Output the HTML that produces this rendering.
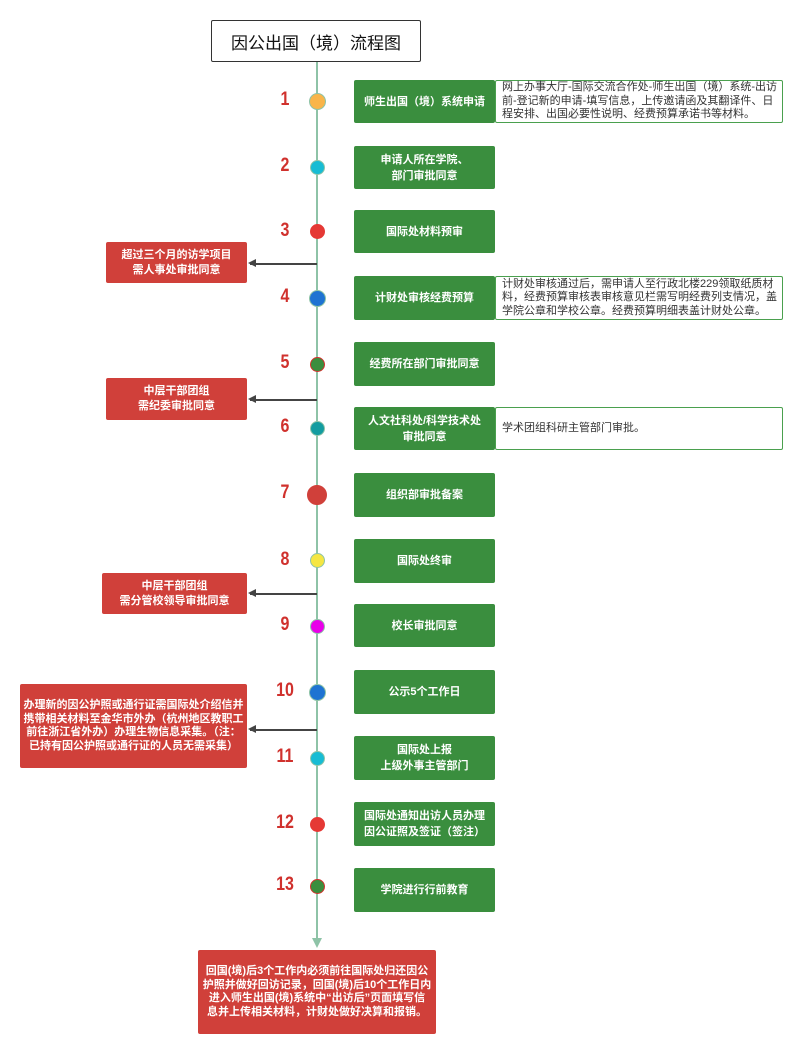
<!DOCTYPE html>
<html><head><meta charset="utf-8"><style>
*{margin:0;padding:0;box-sizing:border-box}
body{width:799px;height:1052px;background:#fff;position:relative;overflow:hidden;font-family:"Liberation Sans","Noto Sans CJK SC",sans-serif}
.a{position:absolute}
.g{position:absolute;left:354px;width:141px;background:#3a8e3e;color:#fff;font-size:11px;font-weight:bold;display:flex;align-items:center;justify-content:center;text-align:center;line-height:16px;border-radius:2px}
.r{position:absolute;background:#d0403a;color:#fff;font-size:11px;font-weight:bold;display:flex;align-items:center;justify-content:center;text-align:center;line-height:15px;border-radius:2px}
.d{position:absolute;left:495px;width:288px;border:1.5px solid #4aa04e;background:#fff;color:#333;font-size:11px;line-height:13.5px;padding:0 2px 0 6px;display:flex;align-items:center;border-radius:2px;white-space:nowrap}
.n{position:absolute;left:270px;width:30px;text-align:center;color:#d0312d;font-size:16px;font-weight:bold;transform:scaleY(1.2)}
.c{position:absolute;border-radius:50%;border:1.5px solid #8ec3a7}
.ar{position:absolute;height:1.5px;background:#444}
.ar:before{content:"";position:absolute;left:-2px;top:-4px;border-right:8px solid #444;border-top:4.5px solid transparent;border-bottom:4.5px solid transparent}
</style></head><body>
<div class="a" style="left:211px;top:20px;width:210px;height:42px;border:1.5px solid #333;border-radius:2px;display:flex;align-items:center;justify-content:center;font-size:17px;color:#111">因公出国（境）流程图</div>
<div class="a" style="left:316px;top:62px;width:2px;height:878px;background:#8ec3a7"></div>
<div class="a" style="left:312px;top:938px;border-top:10px solid #8ec3a7;border-left:5.5px solid transparent;border-right:5.5px solid transparent"></div>

<div class="g" style="top:80px;height:43px">师生出国（境）系统申请</div>
<div class="d" style="top:80px;height:43px">网上办事大厅-国际交流合作处-师生出国（境）系统-出访<br>前-登记新的申请-填写信息，上传邀请函及其翻译件、日<br>程安排、出国必要性说明、经费预算承诺书等材料。</div>
<div class="g" style="top:146px;height:43px">申请人所在学院、<br>部门审批同意</div>
<div class="g" style="top:210px;height:43px">国际处材料预审</div>
<div class="g" style="top:276px;height:44px">计财处审核经费预算</div>
<div class="d" style="top:276px;height:44px">计财处审核通过后，需申请人至行政北楼229领取纸质材<br>料，经费预算审核表审核意见栏需写明经费列支情况，盖<br>学院公章和学校公章。经费预算明细表盖计财处公章。</div>
<div class="g" style="top:342px;height:44px">经费所在部门审批同意</div>
<div class="g" style="top:407px;height:43px">人文社科处/科学技术处<br>审批同意</div>
<div class="d" style="top:407px;height:43px">学术团组科研主管部门审批。</div>
<div class="g" style="top:473px;height:44px">组织部审批备案</div>
<div class="g" style="top:539px;height:44px">国际处终审</div>
<div class="g" style="top:604px;height:43px">校长审批同意</div>
<div class="g" style="top:670px;height:44px">公示5个工作日</div>
<div class="g" style="top:736px;height:44px">国际处上报<br>上级外事主管部门</div>
<div class="g" style="top:802px;height:44px">国际处通知出访人员办理<br>因公证照及签证（签注）</div>
<div class="g" style="top:868px;height:44px">学院进行行前教育</div>

<div class="n" style="top:91px">1</div><div class="c" style="left:309px;top:93px;width:17px;height:17px;background:#f9b54a"></div>
<div class="n" style="top:157px">2</div><div class="c" style="left:310px;top:160px;width:15px;height:15px;background:#17bcd4"></div>
<div class="n" style="top:222px">3</div><div class="c" style="left:310px;top:224px;width:15px;height:15px;background:#e53935;border-color:#e53935"></div>
<div class="n" style="top:288px">4</div><div class="c" style="left:309px;top:290px;width:17px;height:17px;background:#1e73d2"></div>
<div class="n" style="top:354px">5</div><div class="c" style="left:310px;top:357px;width:15px;height:15px;background:#3a8e3e;border-color:#d0312d"></div>
<div class="n" style="top:418px">6</div><div class="c" style="left:310px;top:421px;width:15px;height:15px;background:#139ca0"></div>
<div class="n" style="top:484px">7</div><div class="c" style="left:307px;top:485px;width:20px;height:20px;background:#d0403a;border-color:#d0403a"></div>
<div class="n" style="top:551px">8</div><div class="c" style="left:310px;top:553px;width:15px;height:15px;background:#f5e642"></div>
<div class="n" style="top:616px">9</div><div class="c" style="left:310px;top:619px;width:15px;height:15px;background:#e900e9"></div>
<div class="n" style="top:682px">10</div><div class="c" style="left:309px;top:684px;width:17px;height:17px;background:#1e73d2"></div>
<div class="n" style="top:748px">11</div><div class="c" style="left:310px;top:751px;width:15px;height:15px;background:#17bcd4"></div>
<div class="n" style="top:814px">12</div><div class="c" style="left:310px;top:817px;width:15px;height:15px;background:#e53935;border-color:#e53935"></div>
<div class="n" style="top:876px">13</div><div class="c" style="left:310px;top:879px;width:15px;height:15px;background:#3a8e3e;border-color:#d0312d"></div>

<div class="r" style="left:106px;top:242px;width:141px;height:41px">超过三个月的访学项目<br>需人事处审批同意</div>
<div class="ar" style="left:250px;top:263px;width:67px"></div>
<div class="r" style="left:106px;top:378px;width:141px;height:42px">中层干部团组<br>需纪委审批同意</div>
<div class="ar" style="left:250px;top:399px;width:67px"></div>
<div class="r" style="left:102px;top:573px;width:145px;height:41px">中层干部团组<br>需分管校领导审批同意</div>
<div class="ar" style="left:250px;top:593px;width:67px"></div>
<div class="r" style="left:20px;top:684px;width:227px;height:84px;line-height:13.5px;padding:0;white-space:nowrap">办理新的因公护照或通行证需国际处介绍信并<br>携带相关材料至金华市外办（杭州地区教职工<br>前往浙江省外办）办理生物信息采集。（注：<br>已持有因公护照或通行证的人员无需采集）</div>
<div class="ar" style="left:250px;top:729px;width:67px"></div>
<div class="r" style="left:198px;top:950px;width:238px;height:84px;line-height:13.5px;padding:0;white-space:nowrap">回国(境)后3个工作内必须前往国际处归还因公<br>护照并做好回访记录，回国(境)后10个工作日内<br>进入师生出国(境)系统中“出访后”页面填写信<br>息并上传相关材料，计财处做好决算和报销。</div>
</body></html>
